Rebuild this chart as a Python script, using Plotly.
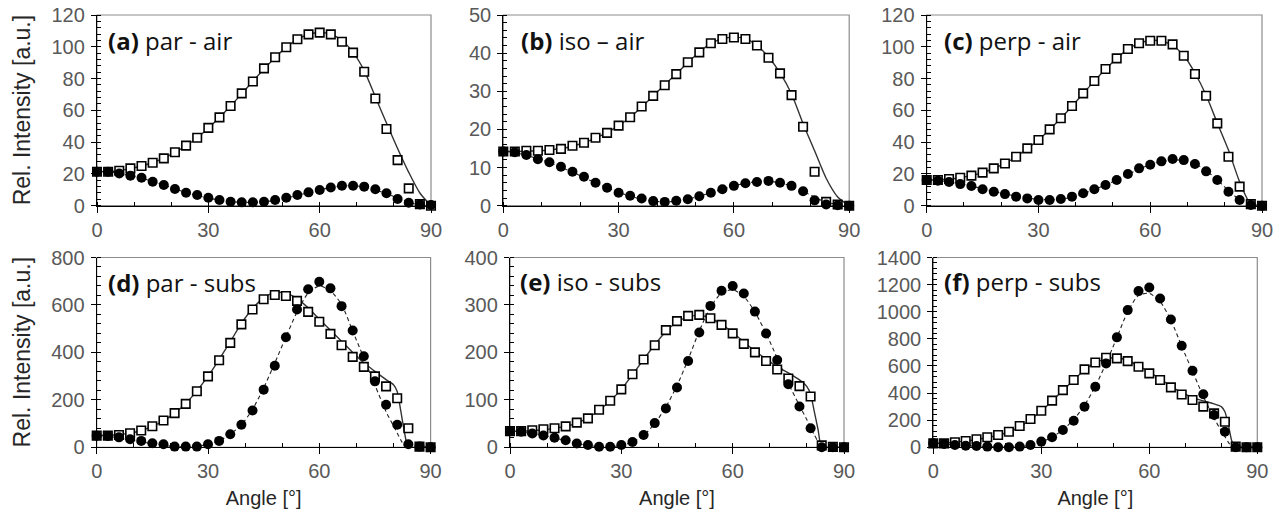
import plotly.graph_objects as go

W, H = 1278, 513

# ---------------- data ----------------
angle = list(range(0, 91, 3))
fit_angle_bottom = list(range(0, 79, 3)) + [80, 81, 82, 83, 84, 87, 90]

# (a) par - air
a_sq = [21.4, 21.4, 22, 23.5, 25, 27, 29.8, 33.6, 37.8, 42.8, 49, 55.6, 62.7, 70.7, 78.2, 86.4,
        93.4, 99.7, 104.7, 107.8, 108.9, 107.8, 103.2, 96.3, 84.3, 67.5, 48.3, 28.7, 10.9, 1, 0]
a_ci = [21.4, 21.4, 20.3, 18.9, 17.6, 15.1, 13, 10.5, 8.2, 6.7, 5, 3.6, 2.5, 2.1, 2.1, 2.5,
        3.6, 5, 6.7, 8.4, 9.9, 11.5, 12.6, 12.6, 12, 10.3, 7.8, 4.2, 1.9, 0.8, 0.4]
a_fit_sq = [21.4, 21.5, 22, 23.3, 25, 27.2, 30, 33.5, 37.8, 42.8, 48.8, 55.5, 62.7, 70.5, 78.3, 86,
            93.3, 99.6, 104.6, 107.8, 109, 108, 104, 96.5, 85, 68.5, 52, 36, 21, 8, 0]
a_fit_ci = [21.4, 21.2, 20.3, 18.9, 17.3, 15.2, 13, 10.6, 8.3, 6.4, 4.8, 3.5, 2.6, 2.1, 2.1, 2.5,
            3.4, 4.8, 6.5, 8.3, 10, 11.4, 12.4, 12.6, 11.8, 10, 7.6, 4.8, 2.2, 0.6, 0]

# (b) iso - air
b_sq = [14.2, 14.2, 14.4, 14.4, 14.6, 14.9, 15.7, 16.5, 17.8, 19.1, 21, 23.2, 26, 28.8, 31.6, 34.5,
        37.6, 40.2, 42.6, 43.7, 44.1, 43.7, 42, 38.8, 34.7, 29, 20.7, 8.9, 1, 0.3, 0]
b_ci = [14.2, 14, 13.3, 12.2, 11.4, 10.2, 8.9, 7.6, 6, 4.7, 3.4, 2.6, 1.9, 1.2, 1, 1.3,
        1.7, 2.5, 3.4, 4.3, 5.2, 5.9, 6.2, 6.5, 6, 5.2, 3.8, 1.4, 0.3, 0.1, 0]
b_fit_sq = [14.2, 14.2, 14.3, 14.4, 14.6, 15, 15.6, 16.5, 17.7, 19.2, 21, 23.2, 25.9, 28.8, 31.7, 34.6,
            37.5, 40.3, 42.5, 43.8, 44.2, 43.8, 42, 39, 34.8, 29.3, 21.5, 14.4, 7.2, 2.3, 0]
b_fit_ci = [14.2, 13.9, 13.2, 12.3, 11.3, 10.1, 8.8, 7.4, 6, 4.7, 3.5, 2.5, 1.7, 1.2, 1.0, 1.2,
            1.7, 2.5, 3.4, 4.3, 5.2, 5.9, 6.3, 6.4, 6, 5.1, 3.8, 2.2, 0.9, 0.3, 0]

# (c) perp - air
c_sq = [16.2, 16.2, 16.8, 17.6, 18.9, 20.8, 23.5, 26.6, 30.8, 36.1, 41.3, 48, 55, 62.7, 70.7, 78.5,
        86, 92.7, 98.6, 102.2, 103.8, 103.8, 101.5, 94.4, 82.9, 69.2, 51.8, 30.8, 12, 1, 0]
c_ci = [16.2, 15.7, 14.9, 13.6, 12.4, 10.3, 8.8, 7.3, 5.7, 4.6, 3.6, 3.6, 4.2, 5.7, 7.8, 10.3,
        13, 16.2, 19.9, 23.5, 25.8, 27.9, 29.4, 28.7, 26.2, 21.6, 16.2, 8.8, 3.6, 0.4, 0]
c_fit_sq = [16.2, 16.3, 16.8, 17.6, 18.9, 20.8, 23.4, 26.6, 30.8, 35.9, 41.3, 47.9, 55, 62.6, 70.6, 78.4,
            85.8, 92.6, 98.5, 102.3, 104, 103.6, 100.8, 94.5, 83.5, 69.5, 52, 35, 15, 1, 0]
c_fit_ci = [16.2, 15.8, 15, 13.8, 12.4, 10.6, 9, 7.4, 6, 4.8, 4, 3.7, 4, 5.5, 7.6, 10.2,
            13, 16.2, 19.6, 23, 25.8, 27.8, 28.8, 28.5, 26.4, 22.2, 16.2, 9.5, 3.8, 0.8, 0]

# (d) par - subs
d_sq = [49, 49, 52, 59, 71, 89, 113, 144, 183, 236, 299, 367, 440, 518, 581, 624,
        642, 638, 617, 571, 529, 478, 430, 381, 339, 299, 257, 207, 80, 3, 0]
d_ci = [49, 48, 42, 34, 27, 17, 13, 3, 3, 3, 13, 27, 55, 95, 155, 243,
        344, 464, 581, 666, 698, 670, 595, 492, 384, 278, 179, 95, 13, 3, 0]
d_fit_sq = [50, 51, 54, 60, 71, 88, 112, 144, 185, 238, 300, 370, 445, 522, 585, 630,
            652, 650, 627, 588, 540, 494, 447, 400, 356, 320, 285, 264, 235, 150, 60, 0, 0, 0]
d_fit_ci = [48, 46, 40, 32, 23, 15, 8, 3, 1, 4, 12, 28, 55, 95, 160, 250,
            355, 465, 570, 650, 680, 660, 602, 490, 377, 262, 150, 90, 60, 30, 5, 0, 0, 0]

# (e) iso - subs
e_sq = [34, 34, 36, 38, 40, 44, 52, 61, 79, 98, 122, 154, 185, 215, 247, 266,
        277, 279, 272, 258, 240, 218, 200, 182, 164, 145, 129, 107, 4, 1, 0]
e_ci = [34, 33, 29, 25, 20, 15, 8, 5, 1, 1, 5, 11, 26, 51, 82, 126,
        182, 242, 298, 330, 340, 324, 286, 240, 184, 133, 86, 40, 0, 0, 0]
e_fit_sq = [34, 34, 35, 37, 40, 44, 51, 62, 78, 98, 122, 153, 185, 216, 244, 264,
            275, 278, 272, 259, 242, 222, 203, 186, 170, 157, 142, 128, 112, 75, 38, 2, 0, 0]
e_fit_ci = [34, 32, 29, 25, 20, 14, 8, 4, 1, 1, 4, 11, 25, 50, 85, 130,
            185, 245, 295, 325, 332, 318, 285, 240, 188, 135, 88, 58, 42, 26, 12, 0, 0, 0]

# (f) perp - subs
f_sq = [29, 29, 37, 47, 59, 74, 91, 115, 157, 209, 270, 344, 422, 496, 575, 626,
        661, 656, 636, 594, 545, 496, 442, 390, 349, 300, 250, 189, 5, 0, 0]
f_ci = [29, 25, 17, 12, 10, 5, 0, 0, 5, 17, 42, 74, 128, 196, 300, 447,
        619, 811, 1012, 1152, 1179, 1098, 943, 749, 565, 391, 238, 115, 0, 0, 0]
f_fit_sq = [30, 32, 38, 47, 58, 72, 90, 113, 150, 205, 268, 342, 420, 496, 570, 622,
            652, 660, 640, 600, 555, 505, 450, 405, 368, 342, 320, 300, 262, 160, 40, 0, 0, 0]
f_fit_ci = [29, 25, 18, 12, 8, 4, 2, 2, 5, 15, 38, 75, 130, 205, 310, 450,
            620, 810, 1000, 1120, 1135, 1075, 938, 745, 560, 375, 215, 120, 79, 35, 5, 0, 0, 0]

labels = ["<b>(a)</b> par - air", "<b>(b)</b> iso \u2013 air", "<b>(c)</b> perp - air",
          "<b>(d)</b> par - subs", "<b>(e)</b> iso - subs", "<b>(f)</b> perp - subs"]
y_max = [120, 50, 120, 800, 400, 1400]
y_dtick = [20, 10, 20, 200, 100, 200]
x_ticks = [0, 30, 60, 90]

panels = [
    (a_sq, a_ci, angle, a_fit_sq, a_fit_ci),
    (b_sq, b_ci, angle, b_fit_sq, b_fit_ci),
    (c_sq, c_ci, angle, c_fit_sq, c_fit_ci),
    (d_sq, d_ci, fit_angle_bottom, d_fit_sq, d_fit_ci),
    (e_sq, e_ci, fit_angle_bottom, e_fit_sq, e_fit_ci),
    (f_sq, f_ci, fit_angle_bottom, f_fit_sq, f_fit_ci),
]

# ---------------- layout (pixel geometry) ----------------
px_x = [(97, 431), (503.3, 849.2), (926.7, 1262), (96.7, 430.6), (510, 844), (933.3, 1257.3)]
px_y = [(15, 205.7)] * 3 + [(257.5, 447.3)] * 3
label_px = [(106, 40), (519, 40), (942, 40), (106, 282), (518, 281), (942, 281)]

TICK_FONT = dict(family="Liberation Sans, Arial, sans-serif", size=20, color="#595959")
TITLE_FONT = dict(family="Liberation Sans, Arial, sans-serif", size=20, color="#262626")
YTITLE_FONT = dict(family="Liberation Sans, Arial, sans-serif", size=23, color="#262626")
LABEL_FONT = dict(family="Open Sans, Lato, sans-serif", size=24, color="#111111")

fig = go.Figure()
layout = dict(width=W, height=H, margin=dict(l=0, r=0, t=0, b=0, autoexpand=False),
              paper_bgcolor="white", plot_bgcolor="white", showlegend=False)
shapes, annotations = [], []

for i, (sq, ci, fang, fsq, fci) in enumerate(panels):
    n = i + 1
    xa = "x" if n == 1 else f"x{n}"
    ya = "y" if n == 1 else f"y{n}"
    fig.add_trace(go.Scatter(x=fang, y=fsq, xaxis=xa, yaxis=ya, mode="lines",
                             line=dict(color="#333333", width=1.4, shape="spline", smoothing=0.7),
                             hoverinfo="skip"))
    fig.add_trace(go.Scatter(x=fang, y=fci, xaxis=xa, yaxis=ya, mode="lines",
                             line=dict(color="#222222", width=1.1, dash="4px,3px", shape="spline", smoothing=0.7),
                             hoverinfo="skip"))
    fig.add_trace(go.Scatter(x=angle, y=sq, xaxis=xa, yaxis=ya, mode="markers", cliponaxis=False,
                             marker=dict(symbol="square", size=8.5, color="white",
                                         line=dict(color="black", width=1.6))))
    fig.add_trace(go.Scatter(x=angle, y=ci, xaxis=xa, yaxis=ya, mode="markers", cliponaxis=False,
                             marker=dict(symbol="circle", size=10, color="black",
                                         line=dict(color="black", width=0))))

    x0, x1 = px_x[i]
    y0, y1 = px_y[i]
    xkey = "xaxis" if n == 1 else f"xaxis{n}"
    ykey = "yaxis" if n == 1 else f"yaxis{n}"
    layout[xkey] = dict(domain=[x0 / W, x1 / W], anchor=ya, range=[0, 90], automargin=False,
                        tickvals=x_ticks, ticks="outside", ticklen=6, tickcolor="black",
                        showline=True, linecolor="black", linewidth=1.3,
                        showgrid=False, zeroline=False, tickfont=TICK_FONT,
                        minor=dict(dtick=10, ticks="inside", ticklen=4, tickcolor="black", showgrid=False),
                        fixedrange=True)
    if i >= 3:
        layout[xkey]["title"] = dict(text="Angle [°]", font=TITLE_FONT, standoff=9)
    layout[ykey] = dict(domain=[1 - y1 / H, 1 - y0 / H], anchor=xa, range=[0, y_max[i]],
                        automargin=False,
                        dtick=y_dtick[i], ticks="outside", ticklen=5, tickcolor="black",
                        showline=True, linecolor="black", linewidth=1.3,
                        showgrid=False, zeroline=False, tickfont=TICK_FONT,
                        minor=dict(dtick=y_dtick[i] / 5, ticks="inside", ticklen=4,
                                   tickcolor="black", showgrid=False),
                        ticklabelstandoff=2, fixedrange=True)
    shapes.append(dict(type="rect", xref=f"{xa} domain", yref=f"{ya} domain",
                       x0=0, x1=1, y0=0, y1=1, line=dict(color="#8c8c8c", width=1.2), layer="below"))
    lx, ly = label_px[i]
    annotations.append(dict(text=labels[i], x=lx / W, y=1 - ly / H, xref="paper", yref="paper",
                            xanchor="left", yanchor="middle", showarrow=False, font=LABEL_FONT))

for cy in [(15 + 205.7) / 2, (257.5 + 447.3) / 2]:
    annotations.append(dict(text="Rel. Intensity [a.u.]", x=22 / W, y=1 - cy / H,
                            xref="paper", yref="paper", xanchor="center", yanchor="middle",
                            textangle=-90, showarrow=False, font=YTITLE_FONT))

layout["shapes"] = shapes
layout["annotations"] = annotations
fig.update_layout(**layout)
fig.write_html("out.html", config={"displayModeBar": False},
               post_script="document.body.style.margin='0';")
